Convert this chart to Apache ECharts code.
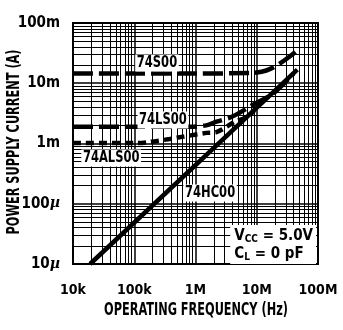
<!DOCTYPE html>
<html><head><meta charset="utf-8">
<script src="https://cdn.jsdelivr.net/npm/echarts@6/dist/echarts.min.js"></script>
<style>html,body{margin:0;padding:0;background:#fff}#c{width:343px;height:330px}</style>
</head><body><div id="c"></div>
<script>
var FONT = "'Liberation Sans Narrow','DejaVu Sans Condensed',sans-serif";
var xTickLabels = {10000:'10k',100000:'100k',1000000:'1M',10000000:'10M',100000000:'100M'};
var yTickLabels = {0.1:'100m',0.01:'10m',0.001:'1m',0.0001:'100{i|µ}',0.00001:'10{i|µ}'};
var xTitle = 'OPERATING FREQUENCY (Hz)';
var yTitle = 'POWER SUPPLY CURRENT (A)';
var xDecades = [1e4,1e5,1e6,1e7];
var yDecades = [1e-5,1e-4,1e-3,1e-2];
var minorMult = [2,3,4,5,6,7,8,9];

var freqS00 = [1e4, 1e6, 8e6, 1.2e7, 1.7e7, 2.5e7, 3.5e7, 4.6e7];
var curS00  = [0.0145, 0.0145, 0.0148, 0.0155, 0.0175, 0.022, 0.028, 0.035];
var freqLS00 = [1e4, 8e5, 1.5e6, 2.2e6, 4e6, 8.7e6, 1.8e7, 4e7];
var curLS00  = [0.0019, 0.0019, 0.002, 0.0023, 0.0028, 0.0044, 0.0066, 0.0145];
var freqALS00 = [1e4, 1.1e5, 1.8e5, 3.8e5, 6.3e5, 1.5e6, 2.2e6, 4.4e6, 7e6, 9e6];
var curALS00  = [0.00102, 0.00102, 0.00106, 0.00119, 0.0013, 0.0015, 0.00155, 0.0023, 0.00275, 0.0035];
var freqHC00 = [1.9e4, 4.6e7];
var curHC00  = [1e-5, 0.0168];

var seriesNames = ['74S00', '74LS00', '74ALS00', '74HC00'];
var labelFreq = [2.35e5, 2.94e5, 4.2e4, 1.73e6];
var labelCur  = [0.0217, 0.00245, 0.000575, 0.000151];

var X_MIN = 1e4, X_MAX = 1e8, Y_MIN = 1e-5, Y_MAX = 0.1;

function pairs(xs, ys){ return xs.map(function(x,i){return [x, ys[i]];}); }
var gridLines = [];
xDecades.forEach(function(d){ minorMult.forEach(function(m){ gridLines.push({coords:[[d*m, Y_MIN],[d*m, Y_MAX]]}); }); });
yDecades.forEach(function(d){ minorMult.forEach(function(m){ gridLines.push({coords:[[X_MIN, d*m],[X_MAX, d*m]]}); }); });

var tickFont = {fontFamily:FONT, fontWeight:'bold', color:'#000'};

var chart = echarts.init(document.getElementById('c'), null, {renderer:'canvas'});
chart.setOption({
  animation:false,
  grid:{left:73, right:25, top:23, bottom:66, containLabel:false, outerBoundsMode:'none',
    show:true, borderColor:'#000', borderWidth:2, backgroundColor:'transparent'},
  xAxis:{type:'log', logBase:10, min:X_MIN, max:X_MAX,
    axisLine:{show:false}, axisTick:{show:false},
    splitLine:{show:true, lineStyle:{color:'#000', width:1.5}},
    axisLabel:Object.assign({fontSize:14, margin:19,
      formatter:function(v){ return xTickLabels[Math.round(v)] || ''; }}, tickFont)
  },
  yAxis:{type:'log', logBase:10, min:Y_MIN, max:Y_MAX,
    axisLine:{show:false}, axisTick:{show:false},
    splitLine:{show:true, lineStyle:{color:'#000', width:1.5}},
    axisLabel:Object.assign({fontSize:15, margin:13,
      formatter:function(v){ var k = Object.keys(yTickLabels).find(function(kk){return Math.abs(Math.log10(kk)-Math.log10(v))<0.01;}); return k ? yTickLabels[k] : ''; },
      rich:{i:{fontFamily:"'DejaVu Serif',serif", fontStyle:'italic', fontWeight:'bold', fontSize:14, color:'#000'}}}, tickFont)
  },
  series:[
    {type:'lines', coordinateSystem:'cartesian2d', silent:true, z:1, polyline:false,
      lineStyle:{color:'#000', width:1, opacity:1}, data:gridLines},
    {type:'line', name:'74HC00', data:pairs(freqHC00, curHC00), showSymbol:false, z:5,
      lineStyle:{color:'#000', width:4.5, type:'solid'}},
    {type:'line', name:'74ALS00', data:pairs(freqALS00, curALS00), showSymbol:false, smooth:0.3, z:5,
      lineStyle:{color:'#000', width:4.5, type:[8,5]}},
    {type:'line', name:'74LS00', data:pairs(freqLS00, curLS00), showSymbol:false, smooth:0.3, z:5,
      lineStyle:{color:'#000', width:4.5, type:[20,6]}},
    {type:'line', name:'74S00', data:pairs(freqS00, curS00), showSymbol:false, smooth:0.3, z:5,
      lineStyle:{color:'#000', width:4.5, type:[20,6]}}
  ]
});

var g = [];
seriesNames.forEach(function(n, i){
  var p = chart.convertToPixel({gridIndex:0}, [labelFreq[i], labelCur[i]]);
  g.push({type:'text', x:p[0], y:p[1], scaleX:0.8, z:100,
    style:{text:n, align:'center', verticalAlign:'middle', fontFamily:FONT, fontWeight:'bold', fontSize:16,
      fill:'#000', backgroundColor:'#fff', padding:[1,2,0,2]}});
});
g.push({type:'text', x:196, y:311, scaleX:0.74, z:100,
  style:{text:xTitle, align:'center', verticalAlign:'middle', fontFamily:FONT, fontWeight:'bold', fontSize:17, fill:'#000'}});
g.push({type:'text', x:15, y:142, rotation:Math.PI/2, scaleX:0.74, z:100,
  style:{text:yTitle, align:'center', verticalAlign:'middle', fontFamily:FONT, fontWeight:'bold', fontSize:17, fill:'#000'}});
g.push({type:'text', right:27, top:225, z:100,
  style:{text:'{a|V}{s|CC}{a| = 5.0V}\n{a|C}{s|L}{a| = 0 pF}', align:'right',
    backgroundColor:'#fff', padding:[2,3,1,4], lineHeight:18,
    rich:{a:{fontFamily:FONT, fontWeight:'bold', fontSize:15, fill:'#000', lineHeight:18},
          s:{fontFamily:FONT, fontWeight:'bold', fontSize:10, fill:'#000', padding:[6,0,0,0], lineHeight:18}}}});
chart.setOption({graphic:g});
</script></body></html>
